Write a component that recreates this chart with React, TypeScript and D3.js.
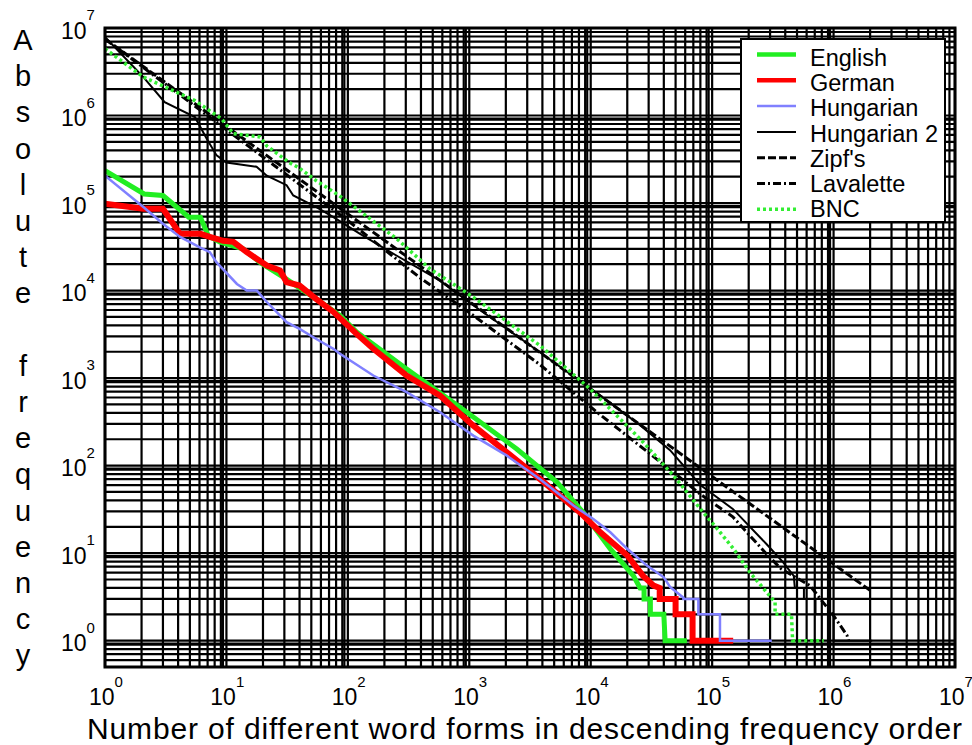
import * as d3 from "d3";

type Pt = [number, number];

// rank, absolute frequency
const english: Pt[] = [
  [1, 2.35e5], [2.1, 1.27e5], [3.0, 1.22e5], [4.9, 6.9e4], [6.1, 6.9e4],
  [7.1, 4.2e4], [8.8, 3.6e4], [13.7, 3.0e4], [18.9, 2.1e4], [31, 1.36e4],
  [55, 8.0e3], [86, 5.2e3], [118, 3.35e3], [305, 1.27e3], [955, 407],
  [2460, 155], [5260, 65], [8700, 29], [1.45e4, 11.2], [2.25e4, 5.5],
  [2.55e4, 4], [2.75e4, 4], [2.75e4, 3], [3.1e4, 3], [3.1e4, 2],
  [4.0e4, 2], [4.1e4, 1], [6.2e4, 1],
];

const german: Pt[] = [
  [1, 9.8e4], [2.07, 8.6e4], [3.0, 8.6e4], [4.15, 4.45e4], [6.1, 4.45e4],
  [7.3, 4.1e4], [9.4, 3.7e4], [11.4, 3.6e4], [14.7, 2.75e4], [21.5, 1.93e4],
  [27.6, 1.7e4], [31.3, 1.25e4], [40, 1.14e4], [55, 8.0e3], [76, 5.7e3],
  [118, 3.2e3], [162, 2.16e3], [305, 1.07e3], [575, 630], [1080, 286],
  [2040, 142], [3830, 70], [8200, 29], [1.2e4, 17.3], [2.0e4, 9.4],
  [2.7e4, 5.5], [3.3e4, 4.25], [3.7e4, 4], [3.7e4, 3], [5.0e4, 3],
  [5.0e4, 2], [6.9e4, 2], [6.9e4, 1], [1.49e5, 1],
];

const hungarian: Pt[] = [
  [1, 2.05e5], [2.07, 9.0e4], [3.0, 5.8e4], [4.15, 4.1e4], [6.1, 3.1e4],
  [7.3, 2.75e4], [8.3, 2.1e4], [12.2, 1.19e4], [14.7, 1.0e4], [17.8, 1.0e4],
  [21.5, 7.4e3], [31.3, 4.35e3], [40, 3.65e3], [55, 2.8e3], [76, 2.16e3],
  [86, 1.9e3], [162, 1.07e3], [305, 690], [575, 407], [1080, 220],
  [2040, 130], [3830, 70], [7200, 35], [1.05e4, 24.6], [1.45e4, 17.3],
  [2.0e4, 11.2], [2.9e4, 7.2], [4.0e4, 5.3], [4.5e4, 4.1], [5.8e4, 3.1],
  [5.8e4, 3], [7.7e4, 3], [7.7e4, 2], [1.16e5, 2], [1.16e5, 1], [3.1e5, 1],
];

const hungarian2: Pt[] = [
  [1, 7.9e6], [2.07, 2.75e6], [3.1, 1.42e6], [5.5, 9.6e5], [6.9, 5.4e5],
  [8.3, 3.5e5], [10, 2.9e5], [17.7, 2.6e5], [21.5, 2.05e5], [31.3, 1.6e5],
  [35.5, 1.22e5], [55, 9.0e4], [76, 6.9e4], [126, 4.45e4], [253, 2.5e4],
  [575, 1.3e4], [1000, 7.3e3], [3000, 2.5e3], [1.2e4, 630], [2.55e4, 290],
  [4.5e4, 150], [8.0e4, 60], [1.48e5, 32], [2.8e5, 12.7], [3.8e5, 8],
  [4.7e5, 5.5], [4.8e5, 4], [5.7e5, 4], [5.7e5, 3], [7.1e5, 3],
  [7.1e5, 2], [1.0e6, 2], [1.0e6, 1], [2.08e6, 1],
];

const zipf: Pt[] = [
  [1, 7.5e6], [10, 7.5e5], [100, 7.5e4], [1e3, 7.5e3], [1e4, 750],
  [1e5, 75], [1e6, 7.5], [2e6, 3.75],
];

const lavalette: Pt[] = [
  [1, 7.5e6], [10, 6.9e5], [100, 6.3e4], [393, 1.4e4], [1080, 5.2e3],
  [3830, 1.42e3], [1.12e4, 410], [4.8e4, 84], [8.0e4, 47], [1.48e5, 26],
  [2.8e5, 9.8], [3.7e5, 6.6], [6.4e5, 4.25], [1.0e6, 1.93], [1.29e6, 1.15],
  [1.33e6, 1],
];

const bnc: Pt[] = [
  [1, 5.8e6], [2.07, 2.75e6], [5.5, 1.48e6], [9.1, 9.2e5], [11.4, 6.2e5],
  [18.9, 5.7e5], [21.5, 4.5e5], [33, 2.9e5], [40, 2.5e5], [55, 1.8e5],
  [84.6, 1.22e5], [253, 3.9e4], [475, 1.77e4], [1080, 8.4e3], [3830, 2.35e3],
  [9900, 750], [2.55e4, 202], [4.8e4, 77], [8.0e4, 32], [1.1e5, 19],
  [1.5e5, 11.2], [2.05e5, 6], [2.8e5, 3.6], [3.3e5, 2.75], [3.3e5, 2],
  [4.5e5, 2], [4.6e5, 1], [8.3e5, 1],
];

const xExponents = [0, 1, 2, 3, 4, 5, 6, 7];
const yExponents = [0, 1, 2, 3, 4, 5, 6, 7];
const xTitle = "Number of different word forms in descending frequency order";
const yTitle = "Absolute frequency";

const series = [
  { name: "English", data: english, color: "#22ee22", width: 5, dash: "" },
  { name: "German", data: german, color: "#ff0000", width: 6, dash: "" },
  { name: "Hungarian", data: hungarian, color: "#8080ff", width: 2.5, dash: "" },
  { name: "Hungarian 2", data: hungarian2, color: "#000000", width: 2, dash: "" },
  { name: "Zipf's", data: zipf, color: "#000000", width: 3, dash: "8,3" },
  { name: "Lavalette", data: lavalette, color: "#000000", width: 3, dash: "8,3,2,3" },
  { name: "BNC", data: bnc, color: "#33ee33", width: 3.5, dash: "3,3" },
];

const W = 972;
const H = 745;
const left = 105;
const right = 955;
const top = 28;
const bottom = 667;
const font = "'Liberation Sans', Arial, Helvetica, sans-serif";

export default function App() {
  const x = d3.scaleLog().domain([1, 1e7]).range([left, right]);
  const y = d3.scaleLog().domain([0.5, 1e7]).range([bottom, top]);

  const line = d3
    .line<Pt>()
    .x((d) => x(d[0]))
    .y((d) => y(d[1]));

  const xGrid: number[] = [];
  for (let e = 0; e < 7; e++) for (let m = 1; m < 10; m++) xGrid.push(m * 10 ** e);
  xGrid.push(1e7);
  const yGrid: number[] = [0.5, 0.6, 0.7, 0.8, 0.9];
  for (let e = 0; e < 7; e++) for (let m = 1; m < 10; m++) yGrid.push(m * 10 ** e);
  yGrid.push(1e7);

  return (
    <svg
      width={W}
      height={H}
      viewBox={`0 0 ${W} ${H}`}
      style={{ position: "absolute", left: 0, top: 0, background: "#fff" }}
      fontFamily={font}
    >
      <defs>
        <clipPath id="plot">
          <rect x={left} y={top} width={right - left} height={bottom - top} />
        </clipPath>
      </defs>

      <g stroke="#000" strokeWidth={2.2}>
        {xGrid.map((v) => (
          <line key={"x" + v} x1={x(v)} x2={x(v)} y1={top} y2={bottom} />
        ))}
        {yGrid.map((v) => (
          <line key={"y" + v} x1={left} x2={right} y1={y(v)} y2={y(v)} />
        ))}
        {xExponents.slice(1, 7).map((e) => (
          <line key={"xd" + e} x1={x(10 ** e) - 3.5} x2={x(10 ** e) - 3.5} y1={top} y2={bottom} />
        ))}
        {yExponents.slice(0, 7).map((e) => (
          <line key={"yd" + e} x1={left} x2={right} y1={y(10 ** e) + 3} y2={y(10 ** e) + 3} />
        ))}
      </g>

      <g clipPath="url(#plot)" fill="none">
        {series.map((s) => (
          <path
            key={s.name}
            d={line(s.data)!}
            stroke={s.color}
            strokeWidth={s.width}
            strokeDasharray={s.dash || undefined}
          />
        ))}
      </g>

      <rect
        x={left}
        y={top}
        width={right - left}
        height={bottom - top}
        fill="none"
        stroke="#000"
        strokeWidth={3}
      />

      {/* legend */}
      <g>
        <rect x={741} y={39} width={204} height={183} fill="#fff" stroke="#000" strokeWidth={2} />
        {series.map((s, i) => (
          <g key={s.name}>
            <line
              x1={757}
              x2={796}
              y1={54.5 + 25.8 * i}
              y2={54.5 + 25.8 * i}
              stroke={s.color}
              strokeWidth={Math.min(s.width, 4.5)}
              strokeDasharray={s.dash || undefined}
            />
            <text x={810} y={66 + 25.2 * i} fontSize={23.5} fill="#000">
              {s.name}
            </text>
          </g>
        ))}
      </g>

      {/* x tick labels */}
      {xExponents.map((e) => (
        <g key={"xl" + e} fontSize={23} fill="#000">
          <text x={x(10 ** e) + 9.5} y={705} textAnchor="end">10</text>
          <text x={x(10 ** e) + 9.5} y={687} fontSize={15}>{e}</text>
        </g>
      ))}

      {/* y tick labels */}
      {yExponents.map((e) => (
        <g key={"yl" + e} fontSize={23} fill="#000">
          <text x={86.5} y={y(10 ** e) + 10.5} textAnchor="end">10</text>
          <text x={86.5} y={y(10 ** e) - 8} fontSize={15}>{e}</text>
        </g>
      ))}

      {/* axis titles */}
      <text
        x={87}
        y={738.5}
        fontSize={30}
        textLength={875}
        lengthAdjust="spacing"
        fill="#000"
      >
        {xTitle}
      </text>
      {yTitle.split("").map((c, i) => (
        <text key={"t" + i} x={23} y={50 + 36.2 * i} fontSize={29} textAnchor="middle" fill="#000">
          {c}
        </text>
      ))}
    </svg>
  );
}
